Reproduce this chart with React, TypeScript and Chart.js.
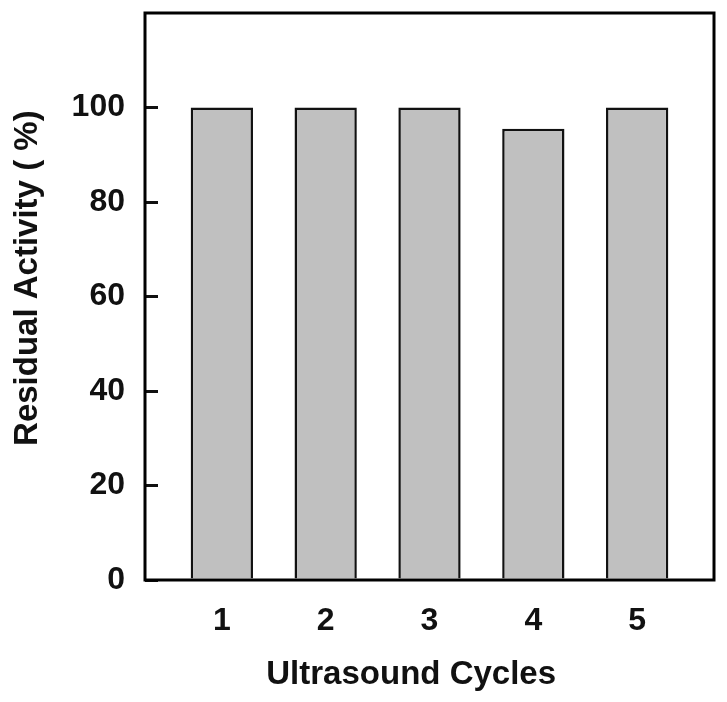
import React, { useEffect, useRef } from "react";
import { Chart, registerables } from "chart.js";

Chart.register(...registerables);

const cycles = [1, 2, 3, 4, 5];
const residualActivity = [100, 100, 100, 95.5, 100];
const yTickValues = [0, 20, 40, 60, 80, 100];

const framePlugin = {
  id: "frame",
  afterDatasetsDraw(chart: any) {
    const { ctx, chartArea } = chart;
    ctx.save();
    ctx.strokeStyle = "#000";
    ctx.lineWidth = 3;
    ctx.strokeRect(chartArea.left, chartArea.top, chartArea.right - chartArea.left, chartArea.bottom - chartArea.top);
    ctx.restore();
  },
};

export default function App() {
  const ref = useRef<HTMLCanvasElement>(null);
  useEffect(() => {
    if (!ref.current) return;
    const font = "'Liberation Sans', Arial, sans-serif";
    const chart = new Chart(ref.current, {
      type: "bar",
      data: {
        datasets: [
          {
            data: cycles.map((c, i) => ({ x: c, y: residualActivity[i] })),
            backgroundColor: "#c0c0c0",
            borderColor: "#111",
            borderWidth: 2.5,
            barPercentage: 0.6,
            categoryPercentage: 1,
          },
        ],
      },
      options: {
        animation: false,
        responsive: false,
        maintainAspectRatio: false,
        layout: { padding: { top: 5, right: 5, left: 0, bottom: 0 } },
        plugins: { legend: { display: false }, tooltip: { enabled: false } },
        scales: {
          x: {
            type: "linear",
            offset: false,
            min: 0.26,
            max: 5.74,
            afterBuildTicks: (scale: any) => {
              scale.ticks = cycles.map((v) => ({ value: v }));
            },
            afterFit: (scale: any) => {
              scale.height = 114;
              scale.paddingLeft = 0;
              scale.paddingRight = 0;
              scale.paddingTop = 0;
              scale.paddingBottom = 0;
            },
            grid: { display: false, drawTicks: false },
            border: { display: false },
            ticks: {
              padding: 22,
              color: "#111",
              font: { family: font, size: 32, weight: "bold" },
              callback: (v: any) => String(v),
            },
            title: {
              display: true,
              text: "Ultrasound Cycles    ",
              color: "#111",
              font: { family: font, size: 33, weight: "bold", lineHeight: 1.15 },
              padding: { top: 0, bottom: 0 },
            },
          },
          y: {
            min: 0,
            max: 120,
            afterBuildTicks: (scale: any) => {
              scale.ticks = yTickValues.map((v) => ({ value: v }));
            },
            afterFit: (scale: any) => {
              scale.width = 137;
              scale.paddingTop = 0;
              scale.paddingBottom = 0;
              scale.paddingLeft = 0;
              scale.paddingRight = 0;
            },
            grid: {
              display: true,
              drawOnChartArea: false,
              drawTicks: true,
              tickLength: -13,
              lineWidth: 3,
              color: "#111",
            },
            border: { display: false },
            ticks: {
              padding: 33,
              color: "#111",
              font: { family: font, size: 32, weight: "bold" },
            },
            title: {
              display: true,
              text: "    Residual Activity ( %)",
              color: "#111",
              font: { family: font, size: 33, weight: "bold", lineHeight: 1.2 },
              padding: 0,
            },
          },
        },
      },
      plugins: [framePlugin],
    } as any);
    return () => chart.destroy();
  }, []);
  return (
    <div style={{ width: 711, height: 686 }}>
      <canvas ref={ref} width={711} height={686} style={{ display: "block" }} />
    </div>
  );
}
